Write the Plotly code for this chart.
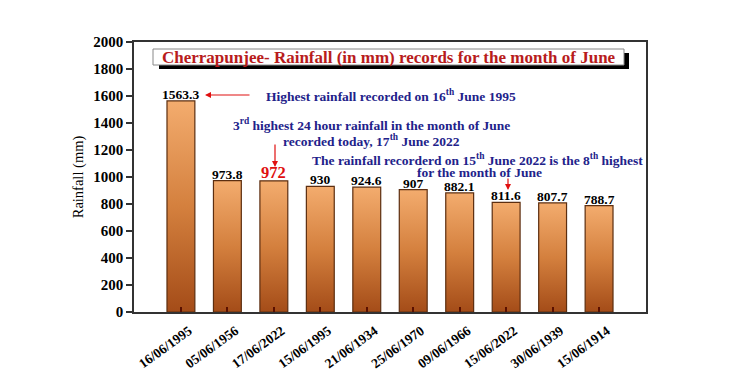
import plotly.graph_objects as go

dates = ["16/06/1995", "05/06/1956", "17/06/2022", "15/06/1995", "21/06/1934",
         "25/06/1970", "09/06/1966", "15/06/2022", "30/06/1939", "15/06/1914"]
rainfall = [1563.3, 973.8, 972, 930, 924.6, 907, 882.1, 811.6, 807.7, 788.7]
value_labels = ["1563.3", "973.8", "972", "930", "924.6", "907", "882.1", "811.6", "807.7", "788.7"]
label_colors = ["black", "black", "#E01010", "black", "black", "black", "black", "black", "black", "black"]
label_sizes = [13.5, 13.5, 16.5, 13.5, 13.5, 13.5, 13.5, 13.5, 13.5, 13.5]
y_ticks = [0, 200, 400, 600, 800, 1000, 1200, 1400, 1600, 1800, 2000]

SERIF = "Liberation Serif, Times New Roman, serif"
BAR_W = 0.6
L, R, T, B = 134, 104, 42, 63
PW, PH = 750 - L - R, 375 - T - B

def px_x(p):
    return (p - L) / PW

def px_y(p):
    return (375 - B - p) / PH

fig = go.Figure()

for i, v in enumerate(rainfall):
    h = BAR_W / 2
    fig.add_trace(go.Scatter(
        x=[i - h, i + h, i + h, i - h, i - h],
        y=[0, 0, v, v, 0],
        mode="lines",
        fill="toself",
        fillgradient=dict(type="vertical",
                          colorscale=[[0, "#A44C18"], [0.5, "#D4803E"], [1, "#F3AC6E"]]),
        line=dict(color="#5C2E10", width=1.2),
        hoverinfo="skip",
        showlegend=False,
    ))

annotations = []
for i, v in enumerate(rainfall):
    annotations.append(dict(
        x=i, y=v, xref="x", yref="y", text="<b>%s</b>" % value_labels[i],
        showarrow=False, xanchor="center", yanchor="bottom", yshift=-3,
        font=dict(family=SERIF, size=label_sizes[i], color=label_colors[i]),
    ))

BLUE = "#22228A"
ARROW = "#E01010"

def note(px, py, text, size=13.5):
    return dict(x=px_x(px), y=px_y(py), xref="paper", yref="paper", text="<b>%s</b>" % text,
                showarrow=False, align="center", xanchor="center", yanchor="middle",
                font=dict(family=SERIF, size=size, color=BLUE))

def arrow(px, py, ax, ay):
    return dict(x=px_x(px), y=px_y(py), xref="paper", yref="paper", text="",
                showarrow=True, ax=ax, ay=ay, arrowhead=2, arrowsize=1, arrowwidth=1.2,
                arrowcolor=ARROW)

annotations += [
    note(391, 96, "Highest rainfall recorded on 16<sup>th</sup> June 1995"),
    note(371, 124.5, "3<sup>rd</sup> highest 24 hour rainfall in the month of June"),
    note(371, 140.5, "recorded today, 17<sup>th</sup> June 2022"),
    note(477, 159, "The rainfall recorderd on 15<sup>th</sup> June 2022 is the 8<sup>th</sup> highest"),
    note(479, 172, "for the month of June"),
    arrow(205, 95, 46, 0),
    arrow(275, 167, 0, -24),
    arrow(508, 190, 0, -13),
    dict(x=px_x(388.5), y=px_y(57), xref="paper", yref="paper",
         xanchor="center", yanchor="middle",
         text="<b>Cherrapunjee- Rainfall (in mm) records for the month of June</b>",
         showarrow=False, font=dict(family=SERIF, size=17, color="#B81C1C")),
]

shapes = [
    dict(type="rect", xref="paper", yref="paper",
         x0=px_x(159), x1=px_x(629), y0=px_y(69), y1=px_y(53),
         fillcolor="black", line=dict(width=0), layer="above"),
    dict(type="rect", xref="paper", yref="paper",
         x0=px_x(153), x1=px_x(624), y0=px_y(65), y1=px_y(49),
         fillcolor="white", line=dict(color="#888888", width=1), layer="above"),
]

fig.update_layout(
    width=750, height=375,
    margin=dict(l=L, r=R, t=T, b=B, autoexpand=False),
    paper_bgcolor="white", plot_bgcolor="white",
    showlegend=False,
    hovermode=False,
    annotations=annotations,
    shapes=shapes,
    xaxis=dict(
        range=[-1.01, 10.01], automargin=False,
        tickmode="array", tickvals=list(range(len(dates))),
        ticktext=["<b>%s</b>" % d for d in dates],
        tickangle=-36,
        ticklabelshift=8, ticklabelstandoff=4,
        ticks="inside", ticklen=5, tickcolor="#5A1000", tickwidth=1.5,
        tickfont=dict(family=SERIF, size=13.5, color="black"),
        showline=True, linecolor="#333333", linewidth=1.5, mirror=True,
        showgrid=False, zeroline=False, fixedrange=True,
    ),
    yaxis=dict(
        range=[0, 2000], automargin=False,
        tickmode="array", tickvals=y_ticks, ticktext=["<b>%d</b>" % t for t in y_ticks],
        ticks="outside", ticklen=6, tickcolor="#333333", tickwidth=1.5,
        tickfont=dict(family=SERIF, size=15, color="black"),
        title=dict(text="Rainfall (mm)", font=dict(family=SERIF, size=14.5, color="black"),
                   standoff=6),
        showline=True, linecolor="#333333", linewidth=1.5, mirror=True,
        showgrid=False, zeroline=False, fixedrange=True,
    ),
)

fig.write_html("out.html", config={"displayModeBar": False},
               post_script="document.body.style.margin='0';")
